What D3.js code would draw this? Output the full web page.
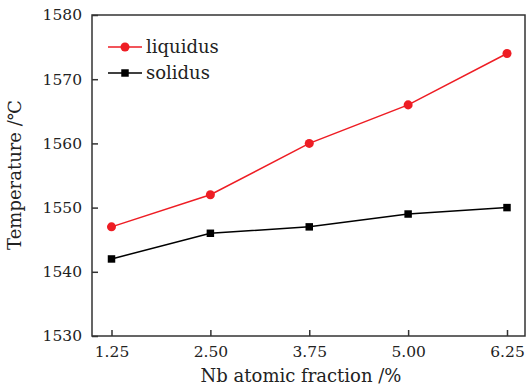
<!DOCTYPE html>
<html>
<head>
<meta charset="utf-8">
<script src="https://cdn.jsdelivr.net/npm/d3@7"></script>
<style>
  body { margin: 0; background: #fff; }
  svg text { font-family: "DejaVu Serif", serif; fill: #222; }
</style>
</head>
<body>
<svg id="dessin" width="526" height="389"></svg>
<script>
// data
let fractions = [1.25, 2.50, 3.75, 5.00, 6.25];
let liquidus = [1547, 1552, 1560, 1566, 1574];
let solidus = [1542, 1546, 1547, 1549, 1550];
let yTicks = [1530, 1540, 1550, 1560, 1570, 1580];
let seriesNames = ["liquidus", "solidus"];

let svg = d3.select("#dessin");
let mLeft = 92, mRight = 525, mTop = 15, mBottom = 336;

let x = d3.scaleLinear().domain([1.25, 6.25]).range([111.5, 507]);
let y = d3.scaleLinear().domain([1530, 1580]).range([mBottom, mTop]);

// frame
svg.append("rect")
    .attr("x", mLeft).attr("y", mTop)
    .attr("width", mRight - mLeft).attr("height", mBottom - mTop)
    .style("fill", "none").style("stroke", "#333").style("stroke-width", 1.5);

// axes, ticks pointing inward
let axeB = d3.axisBottom(x).tickValues(fractions).tickFormat(d3.format(".2f"))
    .tickSizeInner(-6).tickSizeOuter(0).tickPadding(10);
let axeL = d3.axisLeft(y).tickValues(yTicks).tickFormat(d3.format("d"))
    .tickSizeInner(-6).tickSizeOuter(0).tickPadding(10);

let gB = svg.append("g").attr("transform", `translate(0,${mBottom})`).call(axeB);
let gL = svg.append("g").attr("transform", `translate(${mLeft},0)`).call(axeL);
[gB, gL].forEach(g => {
  g.select(".domain").remove();
  g.selectAll(".tick line").style("stroke", "#333").style("stroke-width", 1.5);
  g.selectAll(".tick text").style("font-family", "DejaVu Serif").style("font-size", "15.5px").style("fill", "#222");
});

// axis titles
svg.append("text")
    .attr("x", 301).attr("y", 382)
    .attr("text-anchor", "middle")
    .style("font-size", "18px")
    .text("Nb atomic fraction /%");

svg.append("text")
    .attr("transform", "translate(21,175) rotate(-90)")
    .attr("text-anchor", "middle")
    .style("font-size", "18px")
    .text("Temperature /\u2103");

// series
let series = [
  {name: seriesNames[0], values: liquidus, color: "#ee1d24", shape: "circle"},
  {name: seriesNames[1], values: solidus, color: "#000", shape: "square"}
];

let line = d3.line().x((d, i) => x(fractions[i])).y(d => y(d));

series.forEach((s, k) => {
  svg.append("path")
      .datum(s.values)
      .attr("d", line)
      .style("fill", "none").style("stroke", s.color).style("stroke-width", 1.5);

  let sym = d3.symbol().type(s.shape == "circle" ? d3.symbolCircle : d3.symbolSquare)
      .size(s.shape == "circle" ? 64 : 56);

  svg.selectAll(".pt" + k)
      .data(s.values)
      .enter()
      .append("path")
      .attr("class", "pt" + k)
      .attr("transform", (d, i) => `translate(${x(fractions[i])},${y(d)})`)
      .attr("d", sym)
      .style("fill", s.color);

  // legend entry
  let ly = 47 + k * 26;
  let lg = svg.append("g").attr("transform", `translate(108,${ly})`);
  lg.append("line").attr("x1", 0).attr("x2", 34)
      .style("stroke", s.color).style("stroke-width", 1.5);
  lg.append("path").attr("transform", "translate(17,0)").attr("d", sym).style("fill", s.color);
  lg.append("text").attr("x", 38).attr("y", 6)
      .style("font-size", "18px")
      .text(s.name);
});
</script>
</body>
</html>
